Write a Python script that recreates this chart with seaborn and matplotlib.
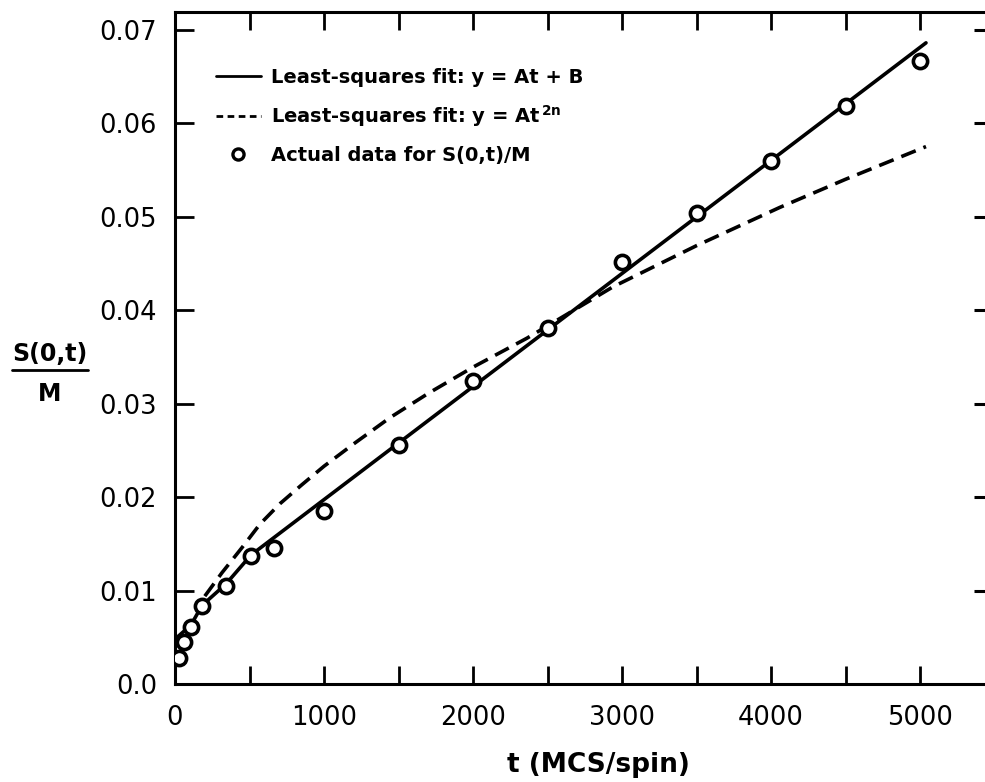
import matplotlib
matplotlib.use("Agg")
import matplotlib.pyplot as plt
from matplotlib.lines import Line2D
import seaborn as sns
import pandas as pd

# ---- data ----
t_data = [30, 60, 107, 181, 342, 510, 664, 1000, 1500, 2000, 2500, 3000, 3500, 4000, 4500, 5000]
s_data = [0.0028, 0.0045, 0.0061, 0.0083, 0.0105, 0.0137, 0.0145, 0.0185, 0.0256, 0.0324,
          0.0381, 0.0451, 0.0504, 0.0560, 0.0618, 0.0667]

# solid curve: joins early points, then straight least-squares line y = At + B
t_linear = [0, 107, 181, 342, 510, 5040]
s_linear = [0.0048, 0.0063, 0.0084, 0.0107, 0.0138, 0.0686]

# dashed curve: least-squares fit y = A t^(2n)
t_power = [200, 315, 450, 570, 705, 850, 1000, 1200, 1443, 1700, 2000, 2362, 2940, 3500, 4060, 4500, 5040]
s_power = [0.0094, 0.0119, 0.0146, 0.0171, 0.0193, 0.0213, 0.0233, 0.0257, 0.0285, 0.0311,
           0.0339, 0.0370, 0.0425, 0.0469, 0.0510, 0.0540, 0.0575]

x_ticks = [0, 500, 1000, 1500, 2000, 2500, 3000, 3500, 4000, 4500, 5000]
x_tick_labels = ["0", "", "1000", "", "2000", "", "3000", "", "4000", "", "5000"]
y_ticks = [0.0, 0.01, 0.02, 0.03, 0.04, 0.05, 0.06, 0.07]
y_tick_labels = ["0.0", "0.01", "0.02", "0.03", "0.04", "0.05", "0.06", "0.07"]

legend_labels = ["Least-squares fit: y = At + B",
                 "Least-squares fit: y = At$^{\\,2n}$",
                 "Actual data for S(0,t)/M"]

# ---- style ----
sns.set_theme(style="white")
plt.rcParams["font.family"] = ["DejaVu Sans"]
plt.rcParams["mathtext.fontset"] = "dejavusans"
plt.rcParams["mathtext.default"] = "bf"
plt.rcParams["text.color"] = "black"

fig = plt.figure(figsize=(9.85, 7.82), dpi=100)
W, H = 985, 782
ax_left, ax_right, ax_top, ax_bottom = 175, 985, 12, 684
ax = fig.add_axes([ax_left / W, 1 - ax_bottom / H, (ax_right - ax_left) / W, (ax_bottom - ax_top) / H])

df_lin = pd.DataFrame({"t": t_linear, "s": s_linear})
df_pow = pd.DataFrame({"t": t_power, "s": s_power})
df_pts = pd.DataFrame({"t": t_data, "s": s_data})

lw = 2.6
sns.lineplot(data=df_lin, x="t", y="s", ax=ax, color="black", linewidth=lw, zorder=2)
sns.lineplot(data=df_pow, x="t", y="s", ax=ax, color="black", linewidth=lw,
             linestyle=(0, (4.3, 2.3)), zorder=2)
sns.scatterplot(data=df_pts, x="t", y="s", ax=ax, s=105, zorder=3)
pts = ax.collections[-1]
pts.set_facecolor("white")
pts.set_edgecolor("black")
pts.set_linewidth(2.6)

ax.set_xlim(0, 5436)
ax.set_ylim(0, 0.0719)
ax.set_xlabel("")
ax.set_ylabel("")

ax.set_xticks(x_ticks)
ax.set_xticklabels(x_tick_labels)
ax.set_yticks(y_ticks)
ax.set_yticklabels(y_tick_labels)

ax.tick_params(axis="x", which="major", direction="in", length=13, width=2.0,
               bottom=True, top=True, labelsize=18.5, pad=15, colors="black")
ax.tick_params(axis="y", which="major", direction="in", length=14, width=2.0,
               left=True, right=False, labelsize=18.5, pad=13, colors="black")

for side in ["left", "bottom", "top"]:
    ax.spines[side].set_visible(True)
    ax.spines[side].set_linewidth(2.2)
    ax.spines[side].set_color("black")
ax.spines["right"].set_visible(False)

# right-side short tick marks without a spine
ax2 = ax.twinx()
ax2.set_ylim(ax.get_ylim())
ax2.set_yticks(y_ticks[1:])
ax2.set_yticklabels([])
ax2.tick_params(axis="y", direction="in", length=8, width=2.2, right=True, left=False, colors="black")
for side in ax2.spines:
    ax2.spines[side].set_visible(False)
ax2.grid(False)
ax.grid(False)

# legend
handles = [
    Line2D([], [], color="black", linewidth=2.0),
    Line2D([], [], color="black", linewidth=2.0, linestyle=(0, (2.4, 1.6))),
    Line2D([], [], color="black", linestyle="none", marker="o", markersize=8,
           markerfacecolor="white", markeredgewidth=2.4),
]
leg = ax.legend(handles, legend_labels, loc="upper left",
                bbox_to_anchor=(216 / W, 1 - 68 / H), bbox_transform=fig.transFigure,
                frameon=False, borderpad=0, borderaxespad=0,
                handlelength=2.3, handletextpad=0.55, labelspacing=0.85,
                prop={"size": 14, "weight": "bold"})
for txt in leg.get_texts():
    txt.set_color("black")

# axis titles
fig.text(50 / W, 1 - 354 / H, "S(0,t)", ha="center", va="center", fontsize=17,
         fontweight="bold", color="black")
fig.add_artist(Line2D([12 / W, 88 / W], [1 - 370 / H, 1 - 370 / H], color="black",
                      linewidth=2.0, transform=fig.transFigure))
fig.text(50 / W, 1 - 394 / H, "M", ha="center", va="center", fontsize=17,
         fontweight="bold", color="black")
fig.text(598 / W, 1 - 765 / H, "t (MCS/spin)", ha="center", va="center", fontsize=19,
         fontweight="bold", color="black")

fig.savefig("out.png", dpi=100)
